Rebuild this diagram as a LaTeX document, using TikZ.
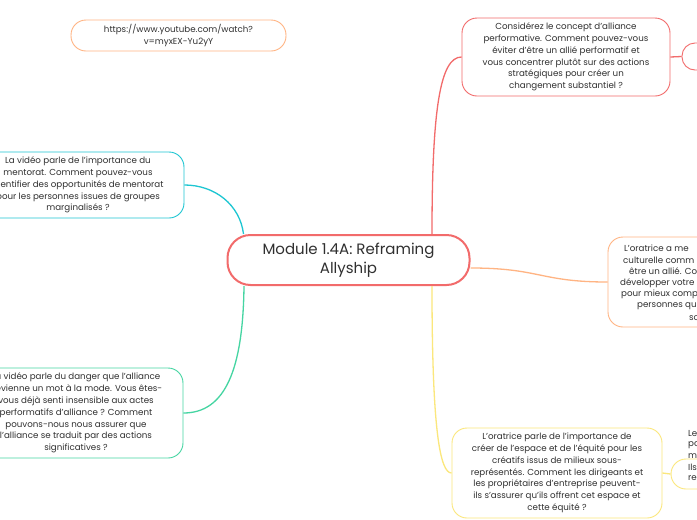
\documentclass[tikz,border=0pt]{standalone}
\usepackage{fontspec}
\setmainfont{Poppins}
\definecolor{redc}{HTML}{F26B6B}
\definecolor{tealc}{HTML}{1DC6D2}
\definecolor{greenc}{HTML}{45D5A2}
\definecolor{orangec}{HTML}{FFB483}
\definecolor{yellowc}{HTML}{FBE77C}
\definecolor{textc}{HTML}{303030}
\begin{document}
\begin{tikzpicture}[x=1pt,y=-1pt,
  txt/.style={font=\fontsize{8.7}{11.8}\selectfont, text=textc, align=center},
  frag/.style={font=\fontsize{8.7}{11.8}\selectfont, text=textc, anchor=west, inner sep=0pt},
  sub/.style={draw, line width=0.9pt, rounded corners=15pt, fill=white, inner sep=0pt, txt},
  conn/.style={line width=1.3pt}]
\useasboundingbox (0,0) rectangle (697,520);
\clip (0,0) rectangle (697,520);
\fill[white] (0,0) rectangle (697,520);

% nodes
\node[sub, draw=orangec, minimum width=215pt, minimum height=31pt] (url) at (178.5,35.5)
  {https://www.youtube.com/watch?\\v=myxEX-Yu2yY};
\node[draw=redc, line width=2pt, rounded corners=23pt, fill=white, minimum width=242pt, minimum height=50pt,
  inner sep=0pt, font=\fontsize{15}{19.5}\selectfont, text=textc, align=center] (c) at (348.5,260)
  {Module 1.4A: Reframing\\Allyship};
\node[sub, draw=redc, minimum width=208pt, minimum height=78pt] (tr) at (566,57)
  {Considérez le concept d'alliance\\performative. Comment pouvez-vous\\éviter d'être un allié performatif et\\vous concentrer plutôt sur des actions\\stratégiques pour créer un\\changement substantiel ?};
\node[sub, draw=redc, minimum width=60pt, minimum height=27pt, rounded corners=13pt] (smr) at (712,56.5) {};
\node[sub, draw=tealc, minimum width=212pt, minimum height=66pt] (tl) at (78,185)
  {La vidéo parle de l'importance du\\mentorat. Comment pouvez-vous\\identifier des opportunités de mentorat\\pour les personnes issues de groupes\\marginalisés ?};
\node[sub, draw=greenc, minimum width=214pt, minimum height=90pt] (bl) at (76,413)
  {La vidéo parle du danger que l'alliance\\devienne un mot à la mode. Vous êtes-\\vous déjà senti insensible aux actes\\performatifs d'alliance ? Comment\\pouvons-nous nous assurer que\\l'alliance se traduit par des actions\\significatives ?};
\node[sub, draw=orangec, minimum width=208pt, minimum height=90pt] (rm) at (712,282) {};
\node[sub, draw=yellowc, minimum width=210pt, minimum height=90pt] (br) at (557,473)
  {L'oratrice parle de l'importance de\\créer de l'espace et de l'équité pour les\\créatifs issus de milieux sous-\\représentés. Comment les dirigeants et\\les propriétaires d'entreprise peuvent-\\ils s'assurer qu'ils offrent cet espace et\\cette équité ?};
\node[sub, draw=yellowc, minimum width=60pt, minimum height=30pt] (smy) at (701,474) {};

% visible fragments of cropped texts
\node[frag] (rm1) at (624,248) {L'oratrice a me};
\node[frag] (rm2) at (623,260) {culturelle comm};
\node[frag] (rm3) at (629,271) {être un allié. Co};
\node[frag] (rm4) at (620,283) {développer votre};
\node[frag] (rm5) at (621,294) {pour mieux comp};
\node[frag] (rm6) at (637,306) {personnes qu};
\node[frag] (rm7) at (689,318) {so};
\node[frag] (le1) at (688,434) {Le};
\node[frag] (le2) at (688,445) {pa};
\node[frag] (le3) at (688,456) {me};
\node[frag] (sy1) at (688,467) {Ils};
\node[frag] (sy2) at (688,479) {rep};

% connectors
\draw[conn, draw=redc] ([xshift=83.5pt]c.north) .. controls (432,110) and (440,57) .. (tr.west);
\draw[conn, draw=tealc] ([xshift=-105pt]c.north) .. controls (240,205) and (215,185) .. (tl.east);
\draw[conn, draw=greenc] ([xshift=-104.5pt]c.south) .. controls (243,370) and (225,413) .. (bl.east);
\draw[conn, draw=orangec] ([yshift=-8pt]c.east) .. controls (540,268) and (540,282) .. (rm.west);
\draw[conn, draw=yellowc] ([xshift=83.5pt]c.south) .. controls (432,430) and (440,473) .. (br.west);
\draw[conn, draw=redc] (tr.east) -- (smr.west);
\draw[conn, draw=yellowc] (br.east) -- (smy.west);
\end{tikzpicture}
\end{document}
